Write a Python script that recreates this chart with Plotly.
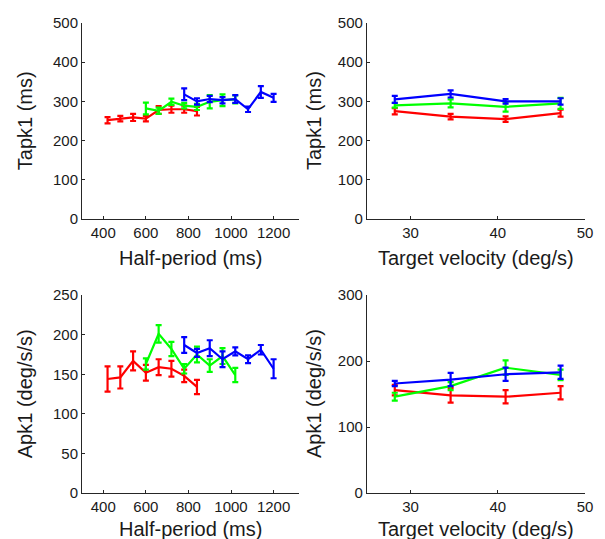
import plotly.graph_objects as go

# ---------------- data ----------------
hp_red = [420, 480, 540, 600, 660, 720, 780, 840]
hp_green = [600, 660, 720, 780, 840, 900, 960, 1020]
hp_blue = [780, 840, 900, 960, 1020, 1080, 1140, 1200]

tapk_red = [252, 256, 259, 256, 278, 280, 280, 275]
tapk_red_err = [8, 7, 9, 7, 10, 9, 9, 11]
tapk_green = [282, 276, 299, 289, 286, 299, 303, 305]
tapk_green_err = [15, 8, 8, 7, 8, 17, 15, 10]
tapk_blue = [318, 300, 306, 303, 306, 280, 324, 309]
tapk_blue_err = [15, 8, 8, 8, 10, 7, 15, 10]

apk_red = [144, 146, 167, 152, 159, 157, 148, 134]
apk_red_err = [16, 14, 12, 10, 10, 10, 8, 9]
apk_green = [163, 201, 182, 157, 175, 161, 173, 149]
apk_green_err = [7, 11, 9, 6, 10, 8, 10, 9]
apk_blue = [187, 177, 183, 169, 179, 169, 181, 157]
apk_blue_err = [10, 5, 10, 10, 5, 5, 6, 12]

vel = [28.2, 34.6, 40.9, 47.2]
tv_red = [275, 261, 255, 270]
tv_red_err = [8, 7, 7, 9]
tv_green = [290, 295, 286, 295]
tv_green_err = [6, 10, 12, 14]
tv_blue = [305, 319, 300, 300]
tv_blue_err = [9, 9, 6, 8]

av_red = [156, 148, 146, 152]
av_red_err = [8, 11, 10, 10]
av_green = [146, 162, 190, 179]
av_green_err = [6, 6, 11, 8]
av_blue = [166, 172, 180, 183]
av_blue_err = [4, 10, 10, 10]

RED, GREEN, BLUE = "#ff0000", "#00ff00", "#0000ff"

fig = go.Figure()


def add(x, y, e, color, xa, ya):
    fig.add_trace(go.Scatter(
        x=x, y=y, mode="lines", line=dict(color=color, width=2.2),
        error_y=dict(type="data", array=e, visible=True, color=color,
                     thickness=2.2, width=3),
        xaxis=xa, yaxis=ya, showlegend=False, hoverinfo="skip"))


add(hp_red, tapk_red, tapk_red_err, RED, "x", "y")
add(hp_green, tapk_green, tapk_green_err, GREEN, "x", "y")
add(hp_blue, tapk_blue, tapk_blue_err, BLUE, "x", "y")

add(vel, tv_red, tv_red_err, RED, "x2", "y2")
add(vel, tv_green, tv_green_err, GREEN, "x2", "y2")
add(vel, tv_blue, tv_blue_err, BLUE, "x2", "y2")

add(hp_red, apk_red, apk_red_err, RED, "x3", "y3")
add(hp_green, apk_green, apk_green_err, GREEN, "x3", "y3")
add(hp_blue, apk_blue, apk_blue_err, BLUE, "x3", "y3")

add(vel, av_red, av_red_err, RED, "x4", "y4")
add(vel, av_green, av_green_err, GREEN, "x4", "y4")
add(vel, av_blue, av_blue_err, BLUE, "x4", "y4")

TICKFONT = dict(family="Liberation Sans Narrow, Liberation Sans, Arial", size=15, color="#1a1a1a")
TITLEFONT = dict(family="Liberation Sans, Arial", size=20, color="#1a1a1a")

axcommon = dict(showline=True, linecolor="#262626", linewidth=1, ticks="inside",
                ticklen=3, tickcolor="#262626", showgrid=False, zeroline=False,
                tickfont=TICKFONT, mirror=False)

dx_left = [0, 0.4317]
dx_right = [0.5663, 1]
dy_top = [0.583, 1]
dy_bot = [0, 0.421]

fig.update_layout(
    width=605, height=539,
    margin=dict(l=82, r=18, t=23, b=46),
    paper_bgcolor="white", plot_bgcolor="white",
    xaxis=dict(domain=dx_left, anchor="y", range=[300, 1320],
               tickvals=[400, 600, 800, 1000, 1200], **axcommon),
    yaxis=dict(domain=dy_top, anchor="x", range=[0, 500],
               tickvals=[0, 100, 200, 300, 400, 500], **axcommon),
    xaxis2=dict(domain=dx_right, anchor="y2", range=[25, 50],
                tickvals=[30, 40, 50], **axcommon),
    yaxis2=dict(domain=dy_top, anchor="x2", range=[0, 500],
                tickvals=[0, 100, 200, 300, 400, 500], **axcommon),
    xaxis3=dict(domain=dx_left, anchor="y3", range=[300, 1320],
                tickvals=[400, 600, 800, 1000, 1200], **axcommon),
    yaxis3=dict(domain=dy_bot, anchor="x3", range=[0, 250],
                tickvals=[0, 50, 100, 150, 200, 250], **axcommon),
    xaxis4=dict(domain=dx_right, anchor="y4", range=[25, 50],
                tickvals=[30, 40, 50], **axcommon),
    yaxis4=dict(domain=dy_bot, anchor="x4", range=[0, 300],
                tickvals=[0, 100, 200, 300], **axcommon),
)

W = 505.0
H = 470.0


def px(x):
    return (x - 82) / W


def py(y):
    return (539 - 46 - y) / H


titles = [
    ("Half-period (ms)", (82 + 300) / 2, 257.5, 0),
    ("Target velocity (deg/s)", (368 + 587) / 2, 257.5, 0),
    ("Half-period (ms)", (82 + 300) / 2, 528.5, 0),
    ("Target velocity (deg/s)", (368 + 587) / 2, 528.5, 0),
    ("Tapk1 (ms)", 25, 121, -90),
    ("Tapk1 (ms)", 315, 121, -90),
    ("Apk1 (deg/s/s)", 25, 394, -90),
    ("Apk1 (deg/s/s)", 315, 394, -90),
]
for text, x, y, ang in titles:
    fig.add_annotation(text=text, x=px(x), y=py(y), xref="paper", yref="paper",
                       showarrow=False, textangle=ang, font=TITLEFONT,
                       xanchor="center", yanchor="middle")

fig.write_html("out.html", config={"displayModeBar": False},
               post_script="document.body.style.margin='0';document.body.style.overflow='hidden';")
